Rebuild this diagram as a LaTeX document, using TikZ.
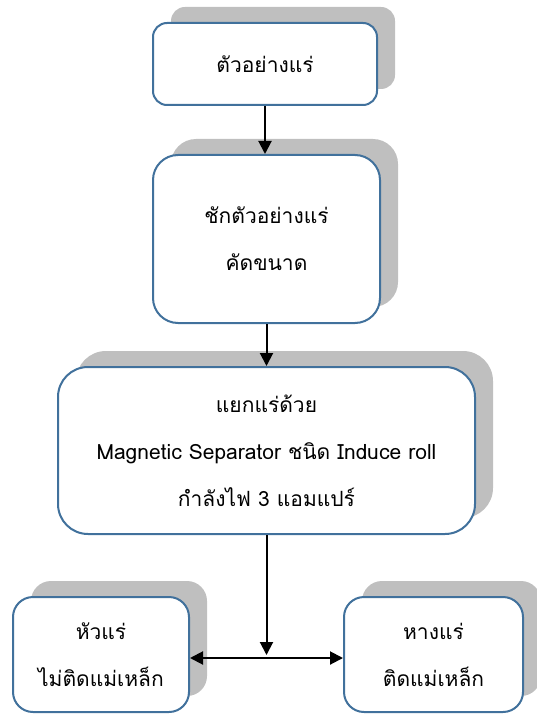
\documentclass[tikz,border=0pt]{standalone}
\usepackage{fontspec}
\newfontfamily\thaifont[Script=Thai]{Loma}
\usetikzlibrary{arrows.meta,shadows}
\definecolor{boxblue}{HTML}{41719C}
\definecolor{shadowgray}{HTML}{BFBFBF}
\begin{document}
\begin{tikzpicture}[x=1pt,y=-1pt,
  box/.style={draw=boxblue,line width=2pt,fill=white,align=center,
    font=\thaifont\fontsize{21}{47}\selectfont,
    drop shadow={shadow xshift=18pt,shadow yshift=16pt,fill=shadowgray,opacity=1}},
  arr/.style={line width=2pt,-{Triangle[length=13pt,width=13pt]}},
  darr/.style={line width=2pt,{Triangle[length=13pt,width=13pt]}-{Triangle[length=13pt,width=13pt]}}]
\useasboundingbox (0,0) rectangle (536,714);
\node[box,minimum width=224pt,minimum height=82pt,rounded corners=14pt] (n1) at (265,64) {ตัวอย่างแร่};
\node[box,minimum width=227pt,minimum height=168pt,rounded corners=25pt] (n2) at (266.5,239) {ชักตัวอย่างแร่\\คัดขนาด};
\node[box,minimum width=417pt,minimum height=167pt,rounded corners=30pt] (n3) at (266.5,450.5) {แยกแร่ด้วย\\Magnetic Separator ชนิด Induce roll\\กำลังไฟ 3 แอมแปร์};
\node[box,minimum width=176pt,minimum height=115pt,rounded corners=20pt] (n4) at (101,654.5) {หัวแร่\\ไม่ติดแม่เหล็ก};
\node[box,minimum width=179pt,minimum height=115pt,rounded corners=20pt] (n5) at (433.5,654.5) {หางแร่\\ติดแม่เหล็ก};
\coordinate (j) at (267,658);
\draw[arr] (n1.south) -- (n1.south |- n2.north);
\draw[arr] (n2.south) -- (n2.south |- n3.north);
\draw[arr] (n3.south) -- ([yshift=3pt]n3.south |- j);
\draw[darr] (n4.east |- j) -- (n5.west |- j);
\end{tikzpicture}
\end{document}
